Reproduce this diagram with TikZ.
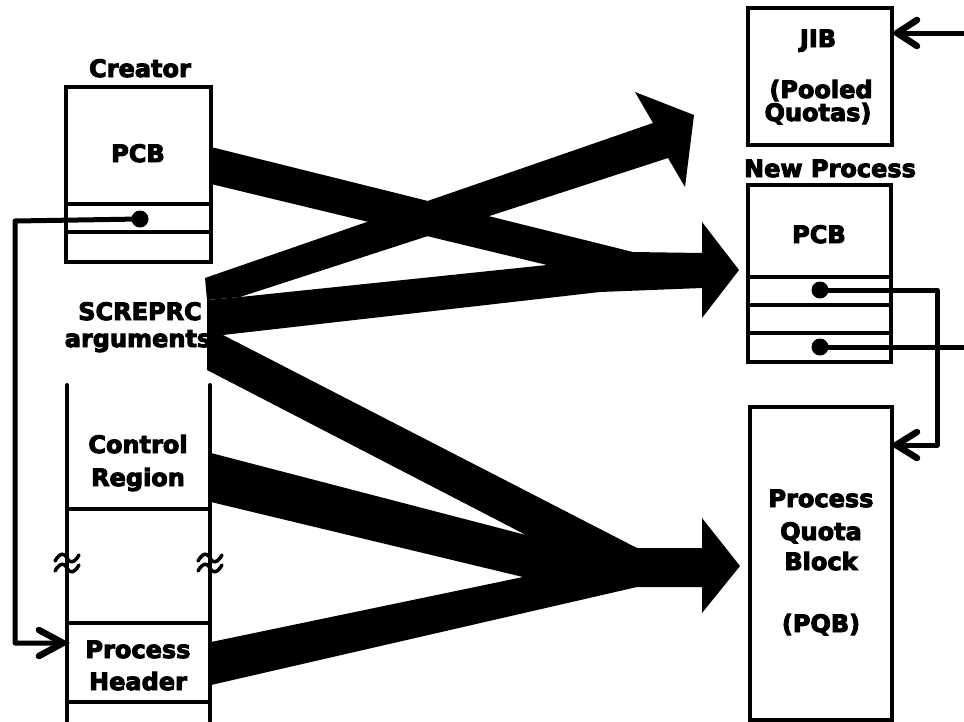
\documentclass[tikz,border=0pt]{standalone}
\usepackage{fontspec}
\setmainfont{DejaVu Sans}
\newfontfamily\heavyfont{DejaVu Sans Bold}[FakeBold=4]
\usetikzlibrary{arrows.meta}

\begin{document}
\begin{tikzpicture}[x=1pt,y=-1pt,
  frame/.style={line width=4pt, line cap=round, line join=round},
  cell/.style={draw, line width=4pt, inner sep=0pt, outer sep=0pt},
  lbl/.style={font=\fontsize{24}{28}\heavyfont, inner sep=0pt, anchor=base},
  wire/.style={line width=5pt, line join=round},
  chev/.style={line width=6.5pt, line cap=round, line join=miter},
  pin/.style={circle, fill=black, minimum size=17pt, inner sep=0pt},
  fat/.style={fill=black}]

% canvas
\fill[white] (0,0) rectangle (964,721);
\useasboundingbox (0,0) rectangle (964,721);

% ---------- creator side ----------
\node[lbl] (tcreator) at (140,77) {Creator};
\node[cell, minimum width=145pt, minimum height=175pt] (cre) at (138.5,174.5) {};
\draw[frame] (cre.west |- 0,204) -- (cre.east |- 0,204);
\draw[frame] (cre.west |- 0,232) -- (cre.east |- 0,232);
\node[lbl] (tpcb1) at (138,162) {PCB};
\node[pin] (crep) at (140,219) {};

\node[lbl] (tscr) at (140,320) {SCREPRC};
\node[lbl] (targ) at (138,347) {arguments};

% process space of the creator (open-ended column)
\draw[frame] (67,385) -- (67,721) (210,385) -- (210,721);
\draw[frame] (67,509) -- (210,509);
\node[cell, minimum width=143pt, minimum height=79pt] (hdr) at (138.5,662.5) {};
\node[lbl] (tctl) at (138,453) {Control};
\node[lbl] (treg) at (138,486) {Region};
\node[lbl] (tproc) at (138,658) {Process};
\node[lbl] (thdr) at (138,690) {Header};

% break marks on the column
\foreach \bx in {67,210}
  \foreach \by in {558,568}
    \draw[line width=3.5pt, line cap=round]
      (\bx-12,\by+3) .. controls (\bx-7,\by-6) and (\bx-2,\by-5) .. (\bx,\by)
      .. controls (\bx+2,\by+5) and (\bx+7,\by+6) .. (\bx+12,\by-3);

% ---------- new process side ----------
\node[cell, minimum width=144pt, minimum height=137pt] (jib) at (820,76.5) {};
\node[lbl] (tjib) at (818,47) {JIB};
\node[lbl] (tpool) at (821,98) {(Pooled};
\node[lbl] (tquo) at (818,121) {Quotas)};

\node[lbl] (tnew) at (830,177) {New Process};
\node[cell, minimum width=143pt, minimum height=177pt] (npcb) at (819.5,273.5) {};
\draw[frame] (npcb.west |- 0,277) -- (npcb.east |- 0,277);
\draw[frame] (npcb.west |- 0,305) -- (npcb.east |- 0,305);
\draw[frame] (npcb.west |- 0,333) -- (npcb.east |- 0,333);
\node[lbl] (tpcb2) at (819,243) {PCB};
\node[pin] (np1) at (820,290) {};
\node[pin] (np2) at (820,347) {};

\node[cell, minimum width=142pt, minimum height=313pt] (pqb) at (821,563.5) {};
\node[lbl] (tpq1) at (821,507) {Process};
\node[lbl] (tpq2) at (821,540) {Quota};
\node[lbl] (tpq3) at (821,570) {Block};
\node[lbl] (tpq4) at (821,632) {(PQB)};

% ---------- pointers ----------
\coordinate (hin) at ([xshift=-4pt]hdr.west |- 0,643);
\coordinate (qin) at ([xshift=4pt]pqb.east |- 0,445);
\coordinate (jin) at ([xshift=5pt]jib.east |- 0,33);
\coordinate (rimA) at (964,347);
\coordinate (rimB) at (964,33);

\draw[wire] (crep.center) -- (15,221) -- (15,643) -- (hin);
\draw[chev] ([shift={(-24,-13)}]hin) -- (hin) -- ([shift={(-24,13)}]hin);

\draw[wire] (np1.center) -- (937,290) -- (937,445) -- (qin);
\draw[chev] ([shift={(21,-13)}]qin) -- (qin) -- ([shift={(21,13)}]qin);

\draw[wire] (np2.center) -- (rimA);

\draw[wire] (rimB) -- (jin);
\draw[chev] ([shift={(20,-13)}]jin) -- (jin) -- ([shift={(20,13)}]jin);

% ---------- wide data-flow arrows ----------
% creator PCB -> new PCB
\fill[fat] (211,147) -- (633,252) -- (640,290) -- (547,265) -- (211,184) -- cycle;
% arguments -> new PCB
\fill[fat] (207,300) -- (240,297) -- (547,265) -- (633,252) -- (702,253)
  -- (702,222) -- (739,270) -- (702,318) -- (702,288) -- (600,292)
  -- (223,335) -- (207,335) -- cycle;
% arguments -> JIB
\fill[fat] (205,278) -- (653,123) -- (635,92) -- (694,115) -- (685,187)
  -- (668,158) -- (240,297) -- (207,300) -- cycle;
% arguments, control region, process header -> PQB
\fill[fat] (223,335) -- (637,548) -- (702,548) -- (702,518) -- (740,566)
  -- (702,613) -- (702,587) -- (637,587) -- (211,685) -- (211,642)
  -- (523,577) -- (211,502) -- (211,453) -- (526,535) -- (207,370)
  -- (207,335) -- cycle;
\end{tikzpicture}
\end{document}
